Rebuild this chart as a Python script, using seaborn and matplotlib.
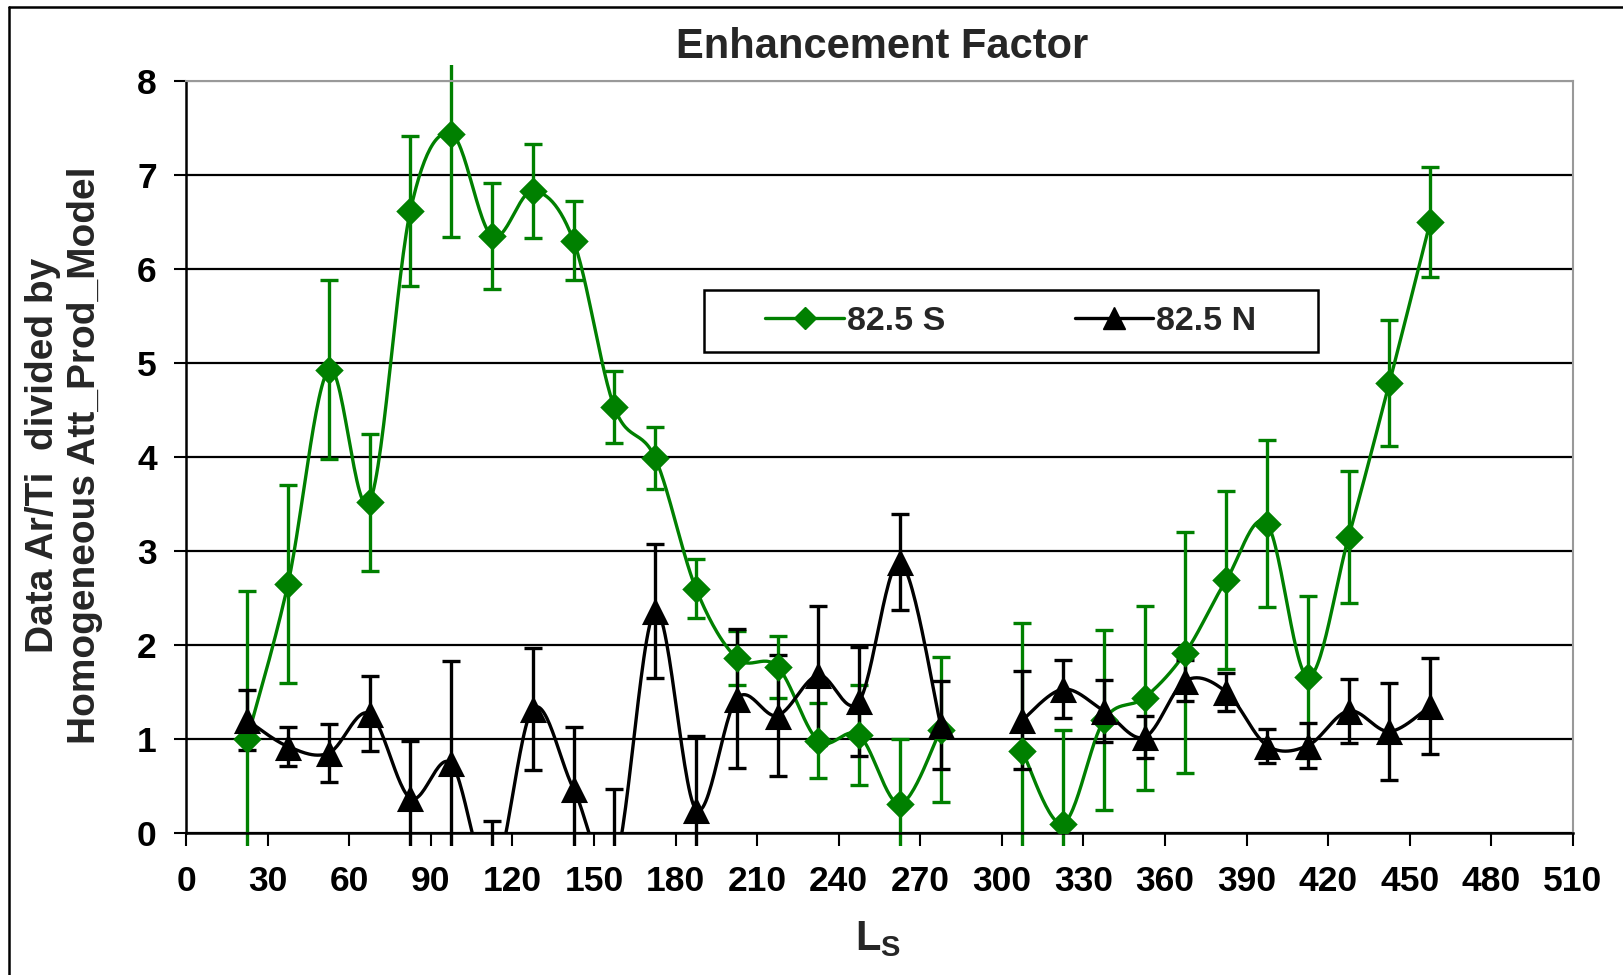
import numpy as np
import pandas as pd
import matplotlib
matplotlib.use("Agg")
import matplotlib.pyplot as plt
import seaborn as sns
from matplotlib.lines import Line2D
from matplotlib.patches import Rectangle

# ---------------- data ----------------
ls_values = [22.5, 37.5, 52.5, 67.5, 82.5, 97.5, 112.5, 127.5, 142.5, 157.5,
             172.5, 187.5, 202.5, 217.5, 232.5, 247.5, 262.5, 277.5,
             307.5, 322.5, 337.5, 352.5, 367.5, 382.5, 397.5, 412.5, 427.5, 442.5, 457.5]

south_vals = [1.00, 2.65, 4.93, 3.52, 6.62, 7.44, 6.35, 6.83, 6.30, 4.53,
              3.99, 2.60, 1.86, 1.77, 0.98, 1.04, 0.31, 1.10,
              0.87, 0.10, 1.20, 1.44, 1.92, 2.69, 3.29, 1.66, 3.15, 4.79, 6.50]
south_err = [1.57, 1.05, 0.95, 0.73, 0.80, 1.10, 0.56, 0.50, 0.42, 0.38,
             0.33, 0.31, 0.29, 0.33, 0.40, 0.53, 0.69, 0.77,
             1.36, 1.00, 0.96, 0.98, 1.28, 0.95, 0.89, 0.86, 0.70, 0.67, 0.59]

north_vals = [1.20, 0.92, 0.85, 1.27, 0.37, 0.74, -0.50, 1.32, 0.47, -0.35,
              2.36, 0.25, 1.43, 1.25, 1.68, 1.40, 2.88, 1.15,
              1.20, 1.53, 1.30, 1.02, 1.62, 1.50, 0.93, 0.93, 1.30, 1.08, 1.35]
north_err = [0.32, 0.21, 0.31, 0.40, 0.61, 1.09, 0.63, 0.65, 0.66, 0.82,
             0.71, 0.78, 0.74, 0.64, 0.74, 0.58, 0.51, 0.47,
             0.52, 0.31, 0.33, 0.22, 0.22, 0.20, 0.18, 0.24, 0.34, 0.52, 0.51]

series_labels = ["82.5 S", "82.5 N"]
x_ticks = list(range(0, 511, 30))
y_ticks = list(range(0, 9))
title_text = "Enhancement Factor"
ylabel_text = "Data Ar/Ti  divided by\nHomogeneous Att_Prod_Model"

GREEN = "#008000"
BLACK = "#000000"

# ---------------- style ----------------
sns.set_style("white")
plt.rcParams["font.family"] = ["Liberation Sans", "DejaVu Sans"]
plt.rcParams["font.weight"] = "bold"
plt.rcParams["mathtext.fontset"] = "custom"
plt.rcParams["mathtext.bf"] = "Liberation Sans:bold"
plt.rcParams["mathtext.rm"] = "Liberation Sans:bold"

W, H = 1623, 975
fig = plt.figure(figsize=(W / 100, H / 100), dpi=100)
ax = fig.add_axes([186 / W, 1 - 833 / H, (1573 - 186) / W, (833 - 81) / H])


def smooth_segments(xs, ys, gap=20, n=30):
    """Excel-like smoothed line (Catmull-Rom) drawn through the data points."""
    xs = np.asarray(xs, float)
    ys = np.asarray(ys, float)
    breaks = np.where(np.diff(xs) > gap)[0] + 1
    rows = []
    for seg_id, idx in enumerate(np.split(np.arange(len(xs)), breaks)):
        P = np.column_stack([xs[idx], ys[idx]])
        m = len(P)
        for i in range(m - 1):
            p0 = P[i - 1] if i > 0 else P[i]
            p1, p2 = P[i], P[i + 1]
            p3 = P[i + 2] if i + 2 < m else P[i + 1]
            t = np.linspace(0, 1, n)[:, None]
            c = 0.5 * ((2 * p1) + (-p0 + p2) * t + (2 * p0 - 5 * p1 + 4 * p2 - p3) * t ** 2
                       + (-p0 + 3 * p1 - 3 * p2 + p3) * t ** 3)
            for xv, yv in c:
                rows.append((xv, yv, seg_id))
    return pd.DataFrame(rows, columns=["x", "y", "seg"])


ax_h_px = 833 - 81
clip_rect = Rectangle((0, -13 / ax_h_px), 1, 1 + 29 / ax_h_px,
                      transform=ax.transAxes, facecolor="none", edgecolor="none")
ax.add_patch(clip_rect)

for vals, errs, col, mk, ms in [(south_vals, south_err, GREEN, "D", 14.5),
                                (north_vals, north_err, BLACK, "^", 19.5)]:
    df_line = smooth_segments(ls_values, vals)
    sns.lineplot(data=df_line, x="x", y="y", units="seg", estimator=None, sort=False,
                 color=col, lw=2.4, ax=ax, legend=False)
    eb = ax.errorbar(ls_values, vals, yerr=errs, fmt="none", ecolor=col,
                     elinewidth=2.4, capsize=6.2, capthick=2.4)
    for art in list(eb.lines[1]) + list(eb.lines[2]):
        art.set_clip_path(clip_rect)
    df_pts = pd.DataFrame({"x": ls_values, "y": vals})
    sns.scatterplot(data=df_pts, x="x", y="y", marker=mk, s=ms ** 2, color=col,
                    edgecolor=col, linewidth=0, ax=ax, zorder=4)

# ---------------- axes ----------------
ax.set_xlim(0, 510)
ax.set_ylim(0, 8)
ax.set_xticks(x_ticks)
ax.set_yticks(y_ticks)
ax.tick_params(axis="both", which="major", direction="out", length=9, width=1.5,
               colors="black", labelsize=25.5)
ax.tick_params(axis="y", pad=12, left=True)
ax.tick_params(axis="x", pad=14, bottom=True)
for lab in ax.get_xticklabels() + ax.get_yticklabels():
    lab.set_fontweight("bold")

ax.yaxis.grid(True, color="black", lw=1.6)
ax.xaxis.grid(False)
ax.set_axisbelow(True)
glines = ax.get_ygridlines()
glines[-1].set_color("#999999")

for side in ["left", "bottom"]:
    ax.spines[side].set_color("black")
    ax.spines[side].set_linewidth(1.8)
for side in ["top", "right"]:
    ax.spines[side].set_color("#999999")
    ax.spines[side].set_linewidth(1.5)
    ax.spines[side].set_visible(True)

ax.set_xlabel(r"$\mathbf{L}_{\mathbf{S}}$", fontsize=30)
ax.xaxis.set_label_coords(878 / W, 1 - 950 / H, transform=fig.transFigure)
ax.xaxis.label.set_verticalalignment("baseline")

ax.set_ylabel(ylabel_text, fontsize=28, fontweight="bold", linespacing=1.2)
ax.yaxis.set_label_coords(64 / W, 1 - 455 / H, transform=fig.transFigure)
ax.yaxis.label.set_verticalalignment("center")

fig.text(882 / W, 1 - 58 / H, title_text, ha="center", va="baseline",
         fontsize=30, fontweight="bold")

# ---------------- legend ----------------
fig.add_artist(Rectangle((704 / W, 1 - 352 / H), 614 / W, 62 / H,
                         transform=fig.transFigure, facecolor="white",
                         edgecolor="black", lw=1.8, zorder=5))
handles = [Line2D([], [], color=GREEN, lw=2.4, marker="D", markersize=11.5),
           Line2D([], [], color=BLACK, lw=2.4, marker="^", markersize=16)]
leg = fig.legend(handles, series_labels, loc="center",
                 bbox_to_anchor=(1011 / W, 1 - 321 / H), ncol=2, frameon=False,
                 handlelength=2.3, handletextpad=0.1,
                 columnspacing=3.8, prop={"weight": "bold", "size": 24.5})
leg.set_zorder(6)

# ---------------- outer frame (partly cropped) ----------------
fig.add_artist(Line2D([9 / W, 1], [1 - 7 / H, 1 - 7 / H], transform=fig.transFigure,
                      color="black", lw=1.8))
fig.add_artist(Line2D([9 / W, 9 / W], [0, 1 - 7 / H], transform=fig.transFigure,
                      color="black", lw=1.8))

fig.savefig("out.png", dpi=100)
